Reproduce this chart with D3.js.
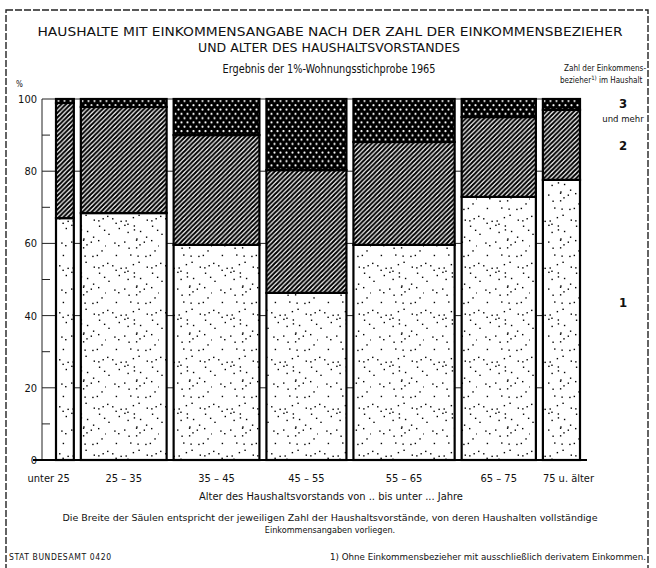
<!DOCTYPE html>
<html>
<head>
<meta charset="utf-8">
<script src="https://cdn.jsdelivr.net/npm/d3@7"></script>
<style>
  body { margin: 0; background: #fff; }
  svg { display: block; }
  text { font-family: "DejaVu Sans Condensed", "Liberation Sans Narrow", sans-serif; fill: #111; }
</style>
</head>
<body>
<svg width="656" height="568"></svg>
<script>
// age groups of the head of household
const ageGroups = ["unter 25", "25 \u2013 35", "35 \u2013 45", "45 \u2013 55", "55 \u2013 65", "65 \u2013 75", "75 u. \u00e4lter"]
// share of household heads (bar width), percent
const households = [3.7, 17.8, 17.8, 16.6, 21.0, 15.4, 7.7]
// households by number of earners, percent
const oneEarner = [67.0, 68.4, 59.6, 46.3, 59.6, 72.9, 77.6]
const twoEarners = [31.9, 29.4, 30.4, 34.0, 28.5, 22.1, 19.4]
const threePlus = [1.1, 2.2, 10.0, 19.7, 11.9, 5.0, 3.0]
const earnerLabels = ["1", "2", "3"]
const yTicks = [0, 20, 40, 60, 80, 100]
const yMinor = [10, 30, 50, 70, 90]

const svg = d3.select("svg")
const gap = 7
const plotLeft = 56, plotRight = 580
const plotTop = 99, plotBottom = 460

// frame
svg.append("rect")
  .attr("x", 6).attr("y", 10)
  .attr("width", 642).attr("height", 570)
  .attr("fill", "none")
  .attr("stroke", "#222")
  .attr("stroke-width", 1.4)
  .attr("stroke-dasharray", "7,2")

// patterns
const defs = svg.append("defs")

let hatch = defs.append("pattern")
  .attr("id", "hatch")
  .attr("patternUnits", "userSpaceOnUse")
  .attr("width", 4.6).attr("height", 4.6)
hatch.append("rect").attr("width", 4.6).attr("height", 4.6).attr("fill", "#fff")
hatch.append("path")
  .attr("d", "M-1,5.6 L5.6,-1 M-1,1 L1,-1 M3.6,5.6 L5.6,3.6")
  .attr("stroke", "#000").attr("stroke-width", 2.1)

let cross = defs.append("pattern")
  .attr("id", "cross")
  .attr("patternUnits", "userSpaceOnUse")
  .attr("width", 6).attr("height", 8.6)
cross.append("rect").attr("width", 6).attr("height", 8.6).attr("fill", "#000")
cross.append("circle").attr("cx", 1.5).attr("cy", 2.1).attr("r", 1.1).attr("fill", "#fff")
cross.append("circle").attr("cx", 4.5).attr("cy", 6.4).attr("r", 1.1).attr("fill", "#fff")

// stipple texture, fixed scatter from a small hash
let stip = defs.append("pattern")
  .attr("id", "stipple")
  .attr("patternUnits", "userSpaceOnUse")
  .attr("width", 53).attr("height", 47)
stip.append("rect").attr("width", 53).attr("height", 47).attr("fill", "#fff")
let dots = []
for (let i = 0; i < 38; i++) {
  let h = Math.sin(i * 12.9898 + 78.233) * 43758.5453
  let k = Math.sin(i * 39.3468 + 11.135) * 24634.6345
  dots.push([(h - Math.floor(h)) * 53, (k - Math.floor(k)) * 47])
}
stip.selectAll("rect.d")
  .data(dots)
  .enter().append("rect")
    .attr("class", "d")
    .attr("x", d => d[0]).attr("y", d => d[1])
    .attr("width", 1.4).attr("height", 1.4)
    .attr("fill", "#000")

// scales
let total = d3.sum(households)
let x = d3.scaleLinear()
  .domain([0, total])
  .range([plotLeft, plotRight - gap * (households.length - 1)])
let y = d3.scaleLinear().domain([0, 100]).range([plotBottom, plotTop])

let bars = []
let cum = 0
households.forEach(function(w, i) {
  let x0 = x(cum) + gap * i
  let x1 = x(cum + w) + gap * i
  cum += w
  bars.push({ i: i, x0: x0, x1: x1 })
})

// gridlines (visible in the gaps)
svg.append("g")
  .selectAll("line")
  .data(yTicks.filter(d => d > 0))
  .enter().append("line")
    .attr("x1", 42).attr("x2", plotRight)
    .attr("y1", d => y(d)).attr("y2", d => y(d))
    .attr("stroke", "#222").attr("stroke-width", 1)

svg.append("g")
  .selectAll("line")
  .data(yMinor)
  .enter().append("line")
    .attr("x1", 42).attr("x2", 50)
    .attr("y1", d => y(d)).attr("y2", d => y(d))
    .attr("stroke", "#222").attr("stroke-width", 1)

// y axis line
svg.append("line")
  .attr("x1", 42).attr("x2", 42)
  .attr("y1", y(100)).attr("y2", y(0))
  .attr("stroke", "#222").attr("stroke-width", 1)

svg.append("g")
  .selectAll("text")
  .data(yTicks)
  .enter().append("text")
    .attr("x", 37)
    .attr("y", d => y(d) + 4)
    .attr("text-anchor", "end")
    .attr("font-size", 11)
    .text(d => d)

svg.append("text")
  .attr("x", 16).attr("y", 87)
  .attr("font-size", 8)
  .text("%")

// stacked segments
let segs = []
bars.forEach(function(b) {
  let a = oneEarner[b.i], c = a + twoEarners[b.i], e = c + threePlus[b.i]
  segs.push({ b: b, lo: 0, hi: a, fill: "url(#stipple)" })
  segs.push({ b: b, lo: a, hi: c, fill: "url(#hatch)" })
  segs.push({ b: b, lo: c, hi: Math.min(e, 100), fill: "url(#cross)" })
})

svg.append("g")
  .selectAll("rect")
  .data(segs)
  .enter().append("rect")
    .attr("x", d => d.b.x0)
    .attr("width", d => d.b.x1 - d.b.x0)
    .attr("y", d => y(d.hi))
    .attr("height", d => y(d.lo) - y(d.hi))
    .attr("fill", d => d.fill)
    .attr("stroke", "#000")
    .attr("stroke-width", 2.2)

// baseline
svg.append("line")
  .attr("x1", 33).attr("x2", 587)
  .attr("y1", y(0)).attr("y2", y(0))
  .attr("stroke", "#000").attr("stroke-width", 2)

// category labels
let last = households.length - 1
svg.append("g")
  .selectAll("text")
  .data(bars)
  .enter().append("text")
    .attr("x", d => d.i === 0 ? d.x1 - 4 : d.i === last ? d.x0 : (d.x0 + d.x1) / 2)
    .attr("y", 482)
    .attr("text-anchor", d => d.i === 0 ? "end" : d.i === last ? "start" : "middle")
    .attr("font-size", 11)
    .text(d => ageGroups[d.i])

// earner labels beside last bar
let l1 = oneEarner[last], l2 = l1 + twoEarners[last]
let legendY = [l1 / 2 + 5, (l1 + l2) / 2, (l2 + 100) / 2 + 0.5]
svg.append("g")
  .selectAll("text")
  .data(earnerLabels)
  .enter().append("text")
    .attr("x", 623)
    .attr("y", (d, i) => y(legendY[i]) + 5)
    .attr("text-anchor", "middle")
    .attr("font-size", 13)
    .attr("font-weight", "bold")
    .text(d => d)

svg.append("text")
  .attr("x", 623).attr("y", y(legendY[2]) + 19)
  .attr("text-anchor", "middle")
  .attr("font-size", 9.5)
  .text("und mehr")

// titles
svg.append("text")
  .attr("x", 330).attr("y", 36)
  .attr("text-anchor", "middle")
  .attr("font-size", 12.5)
  .attr("textLength", 585).attr("lengthAdjust", "spacingAndGlyphs")
  .text("HAUSHALTE MIT EINKOMMENSANGABE NACH DER ZAHL DER EINKOMMENSBEZIEHER")

svg.append("text")
  .attr("x", 329).attr("y", 52)
  .attr("text-anchor", "middle")
  .attr("font-size", 12.5)
  .attr("textLength", 262).attr("lengthAdjust", "spacingAndGlyphs")
  .text("UND ALTER DES HAUSHALTSVORSTANDES")

svg.append("text")
  .attr("x", 329).attr("y", 73)
  .attr("text-anchor", "middle")
  .attr("font-size", 12)
  .attr("textLength", 213).attr("lengthAdjust", "spacingAndGlyphs")
  .text("Ergebnis der 1%-Wohnungsstichprobe 1965")

svg.append("text")
  .attr("x", 646).attr("y", 71)
  .attr("text-anchor", "end")
  .attr("font-size", 8)
  .attr("textLength", 82).attr("lengthAdjust", "spacingAndGlyphs")
  .text("Zahl der Einkommens-")
let lg2 = svg.append("text")
  .attr("x", 560).attr("y", 83)
  .attr("font-size", 8)
lg2.append("tspan").text("bezieher")
lg2.append("tspan").attr("dy", -3).attr("font-size", 6).text("1)")
lg2.append("tspan").attr("dy", 3).text(" im Haushalt")

// axis title and notes
svg.append("text")
  .attr("x", 331).attr("y", 500)
  .attr("text-anchor", "middle")
  .attr("font-size", 11)
  .text("Alter des Haushaltsvorstands von .. bis unter ... Jahre")

svg.append("text")
  .attr("x", 330).attr("y", 521)
  .attr("text-anchor", "middle")
  .attr("font-size", 9)
  .attr("textLength", 535).attr("lengthAdjust", "spacingAndGlyphs")
  .text("Die Breite der S\u00e4ulen entspricht der jeweiligen Zahl der Haushaltsvorst\u00e4nde, von deren Haushalten vollst\u00e4ndige")

svg.append("text")
  .attr("x", 330).attr("y", 533)
  .attr("text-anchor", "middle")
  .attr("font-size", 9)
  .text("Einkommensangaben vorliegen.")

svg.append("text")
  .attr("x", 9).attr("y", 560)
  .attr("font-size", 8.5)
  .attr("letter-spacing", 0.6)
  .text("STAT BUNDESAMT 0420")

svg.append("text")
  .attr("x", 646).attr("y", 560)
  .attr("text-anchor", "end")
  .attr("font-size", 9)
  .attr("textLength", 316).attr("lengthAdjust", "spacingAndGlyphs")
  .text("1) Ohne Einkommensbezieher mit ausschlie\u00dflich derivatem Einkommen.")
</script>
</body>
</html>
